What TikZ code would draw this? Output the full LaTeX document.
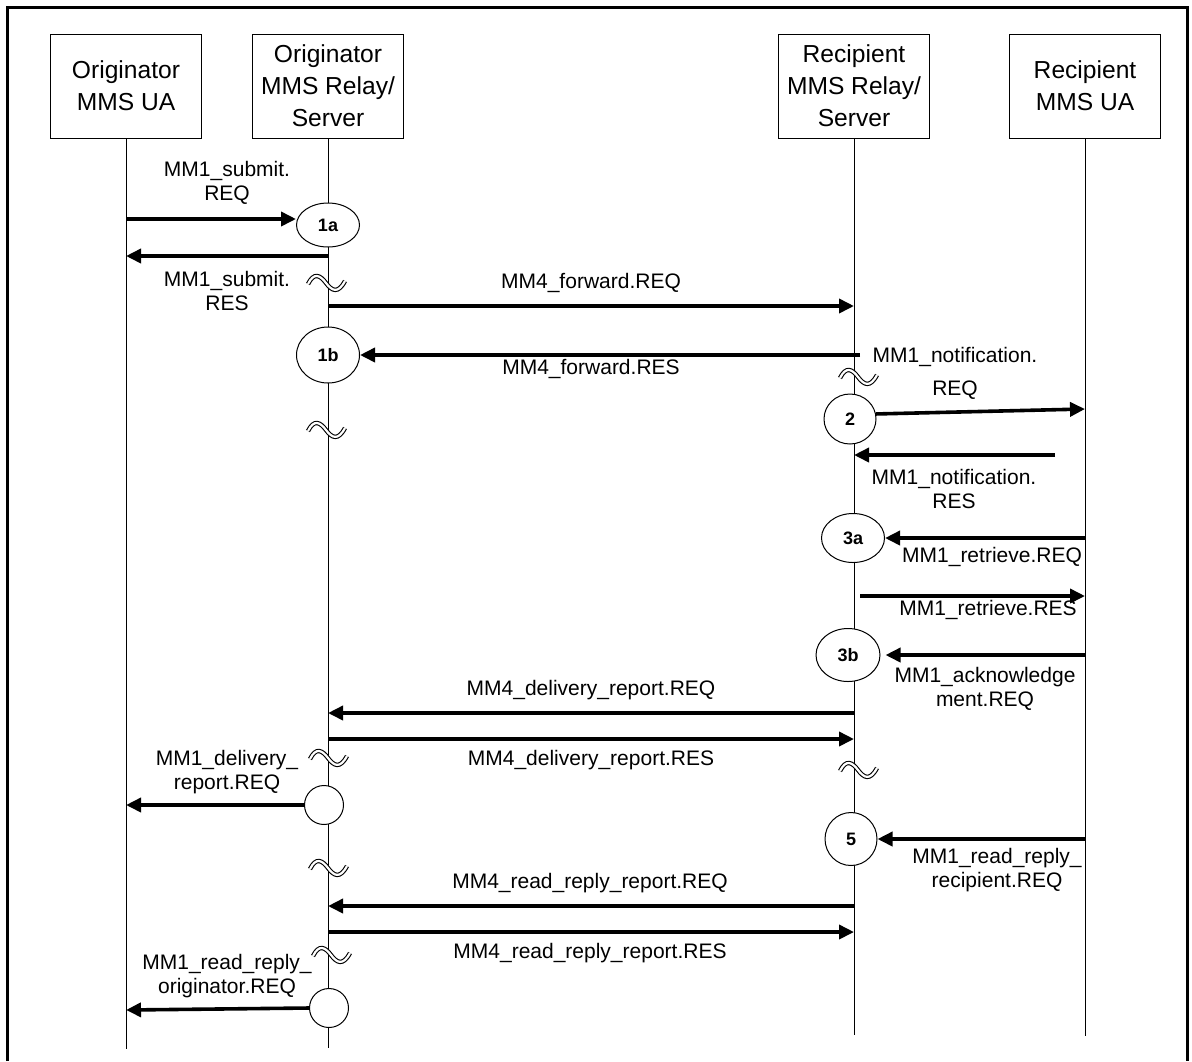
\documentclass[tikz,border=0pt]{standalone}
\usepackage{fontspec}
\setmainfont{Liberation Sans}
\usetikzlibrary{arrows.meta,positioning,calc,shapes.geometric}
\tikzset{
  entity/.style={draw,line width=.5pt,align=center,minimum width=75.5pt,
    minimum height=52pt,inner sep=0pt,font=\fontsize{12.3}{16}\selectfont},
  lifeline/.style={line width=.5pt},
  stage/.style={draw,ellipse,line width=.5pt,fill=white,inner sep=0pt,
    font=\bfseries\fontsize{9}{11}\selectfont},
  msg/.style={-{Triangle[length=7.5pt,width=7pt]},line width=1.8pt},
  msgtext/.style={align=center,inner sep=0pt,font=\fontsize{10.5}{12}\selectfont},
  frame/.style={line width=1.5pt},
  squiggle/.pic={\draw[line width=.55pt,double=white,double distance=1.1pt]
    (-18,1) .. controls (-12,-11) and (-6,-8) .. (0,0)
    .. controls (6,8) and (12,11) .. (19,-2);},
}

\begin{document}
\begin{tikzpicture}[x=.5pt,y=-.5pt]
  \useasboundingbox (0,0) rectangle (1192,1061);
  \draw[frame] (7,1061) -- (7,7) -- (1187,7) -- (1187,1061);
  % parties
  \node[entity] (oua) at (126,86) {Originator\\MMS UA};
  \node[entity] (ors) at (328,86) {Originator\\MMS Relay/\\Server};
  \node[entity] (rrs) at (854,86) {Recipient\\MMS Relay/\\Server};
  \node[entity] (rua) at (1085,86) {Recipient\\MMS UA};
  \foreach \n/\y in {oua/1049,ors/1048,rrs/1035,rua/1036} {
    \draw[lifeline] (\n.south) -- (\n |- 0,\y);
  }
  \foreach \x/\y in {326/283,326/430,328/758,328/868,331/955,858/377,858/770} {
    \pic at (\x,\y) {squiggle};
  }
  % processing steps
  \node[stage,minimum width=31.5pt,minimum height=22pt] (s1a) at (328,225) {1a};
  \node[stage,minimum width=31.5pt,minimum height=28pt] (s1b) at (328,355) {1b};
  \node[stage,minimum width=26pt,minimum height=25pt] (s2) at (850,419) {2};
  \node[stage,minimum width=31.5pt,minimum height=24.5pt] (s3a) at (853,538) {3a};
  \node[stage,minimum width=32pt,minimum height=26.5pt] (s3b) at (848,655) {3b};
  \node[stage,minimum width=26pt,minimum height=26.5pt] (s5) at (851,839) {5};
  \node[stage,minimum width=19.5pt,minimum height=19.5pt] (d1) at (324,805) {};
  \node[stage,minimum width=19.5pt,minimum height=19.5pt] (d2) at (329,1008) {};
  % messages
  \draw[msg] (oua |- 0,219) -- (s1a.west |- 0,219);
  \draw[msg] (ors |- 0,256) -- (oua |- 0,256);
  \draw[msg] (ors |- 0,306) -- (rrs |- 0,306);
  \draw[msg] ($(rrs |- s1b.east)+(6,0)$) -- (s1b.east);
  \draw[msg] (s2.11) -- (rua |- 0,409);
  \draw[msg] ($(rua |- 0,455)+(-30,0)$) -- (rrs |- 0,455);
  \draw[msg] (rua |- s3a.east) -- (s3a.east);
  \draw[msg] ($(rrs |- 0,596)+(6,0)$) -- (rua |- 0,596);
  \draw[msg,shorten >=2.5pt] (rua |- s3b.east) -- (s3b.east);
  \draw[msg] (rrs |- 0,713) -- (ors |- 0,713);
  \draw[msg] (ors |- 0,739) -- (rrs |- 0,739);
  \draw[msg] (d1.west) -- (oua |- d1.west);
  \draw[msg] (rua |- s5.east) -- (s5.east);
  \draw[msg] (rrs |- 0,906) -- (ors |- 0,906);
  \draw[msg] (ors |- 0,932) -- (rrs |- 0,932);
  \draw[msg] (d2.west) -- (oua |- 0,1010);
  % message names
  \node[msgtext] (t1) at (227,183) {MM1\_submit.\\REQ};
  \node[msgtext] (t2) at (227,291) {MM1\_submit.\\RES};
  \node[msgtext] (t3) at (591,283) {MM4\_forward.REQ};
  \node[msgtext] (t4) at (591,369) {MM4\_forward.RES};
  \node[msgtext] (t5) at (955,373) {MM1\_notification.\\[4.5pt]REQ};
  \node[msgtext] (t6) at (954,489) {MM1\_notification.\\RES};
  \node[msgtext] (t7) at (992,557) {MM1\_retrieve.REQ};
  \node[msgtext] (t8) at (988,610) {MM1\_retrieve.RES};
  \node[msgtext] (t9) at (985,689) {MM1\_acknowledge\\ment.REQ};
  \node[msgtext] (t10) at (591,690) {MM4\_delivery\_report.REQ};
  \node[msgtext] (t11) at (591,760) {MM4\_delivery\_report.RES};
  \node[msgtext] (t12) at (227,772) {MM1\_delivery\_\\report.REQ};
  \node[msgtext] (t13) at (997,870) {MM1\_read\_reply\_\\recipient.REQ};
  \node[msgtext] (t14) at (590,883) {MM4\_read\_reply\_report.REQ};
  \node[msgtext] (t15) at (590,953) {MM4\_read\_reply\_report.RES};
  \node[msgtext] (t16) at (227,976) {MM1\_read\_reply\_\\originator.REQ};
\end{tikzpicture}
\end{document}
